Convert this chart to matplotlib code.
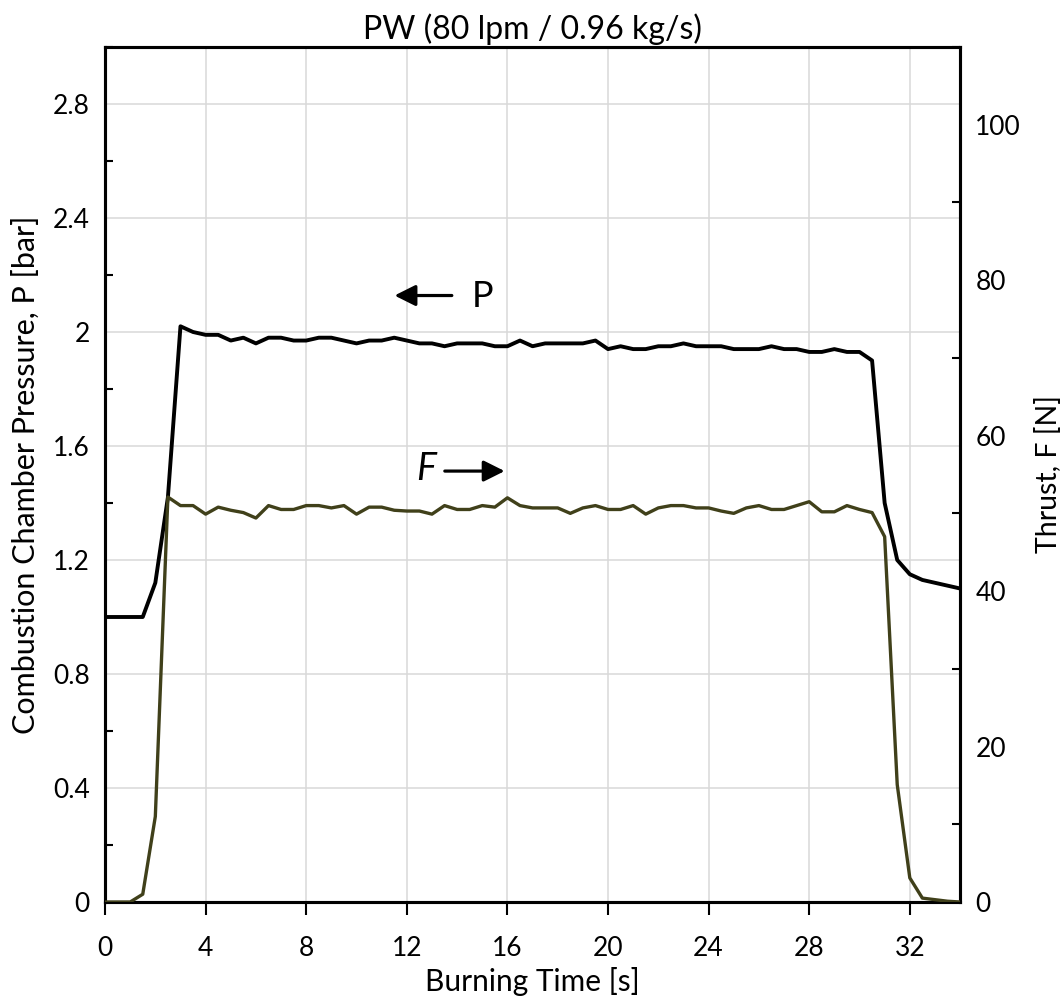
import numpy as np
import matplotlib
matplotlib.use("Agg")
from matplotlib import pyplot as plt
from matplotlib.ticker import MultipleLocator

plt.rcParams['font.family'] = ['Lato', 'DejaVu Sans']

# burning time, sampled every 0.5 s
time_s = np.arange(0, 34.5, 0.5)

# combustion chamber pressure [bar]
pressure = [1.00, 1.00, 1.00, 1.00, 1.12, 1.42, 2.02, 2.00, 1.99, 1.99,
            1.97, 1.98, 1.96, 1.98, 1.98, 1.97, 1.97, 1.98, 1.98, 1.97,
            1.96, 1.97, 1.97, 1.98, 1.97, 1.96, 1.96, 1.95, 1.96, 1.96,
            1.96, 1.95, 1.95, 1.97, 1.95, 1.96, 1.96, 1.96, 1.96, 1.97,
            1.94, 1.95, 1.94, 1.94, 1.95, 1.95, 1.96, 1.95, 1.95, 1.95,
            1.94, 1.94, 1.94, 1.95, 1.94, 1.94, 1.93, 1.93, 1.94, 1.93,
            1.93, 1.90, 1.40, 1.20, 1.15, 1.13, 1.12, 1.11, 1.10]

# thrust [N]
thrust = [0.0, 0.0, 0.0, 1.0, 11.0, 52.1, 51.0, 51.0, 49.9, 50.8,
          50.4, 50.1, 49.4, 51.0, 50.5, 50.5, 51.0, 51.0, 50.7, 51.0,
          49.9, 50.8, 50.8, 50.4, 50.3, 50.3, 49.9, 51.0, 50.5, 50.5,
          51.0, 50.8, 52.0, 51.0, 50.7, 50.7, 50.7, 50.0, 50.7, 51.0,
          50.5, 50.5, 51.0, 49.9, 50.7, 51.0, 51.0, 50.7, 50.7, 50.3,
          50.0, 50.7, 51.0, 50.5, 50.5, 51.0, 51.5, 50.2, 50.2, 51.0,
          50.5, 50.1, 47.0, 15.1, 3.1, 0.5, 0.3, 0.1, 0.0]

fig = plt.figure(figsize=(10.63, 10.02), dpi=100)
ax = fig.add_axes([0.0988, 0.0998, 0.8044, 0.8533])
ax2 = ax.twinx()

ax.plot(time_s, pressure, color='black', lw=2.8, zorder=3)
ax2.plot(time_s, thrust, color='#40401a', lw=2.4, zorder=3)

ax.set_xlim(0, 34)
ax.set_ylim(0, 3.0)
ax2.set_ylim(0, 110)

ax.xaxis.set_major_locator(MultipleLocator(4))
ax.yaxis.set_major_locator(MultipleLocator(0.4))
ax.yaxis.set_minor_locator(MultipleLocator(0.2))
ax2.yaxis.set_major_locator(MultipleLocator(20))
ax2.yaxis.set_minor_locator(MultipleLocator(10))
ax.yaxis.set_major_formatter(lambda v, p: '0' if v == 0 else ('%g' % round(v, 1)))

ax.grid(True, color='#d9d9d9', lw=1.1, zorder=0)
ax.set_axisbelow(True)

for a in (ax, ax2):
    for s in a.spines.values():
        s.set_linewidth(2.2)
        s.set_color('black')

ax.tick_params(axis='x', which='major', direction='out', length=9.5, width=1.5,
               pad=15, labelsize=19)
ax.tick_params(axis='y', which='major', length=0, pad=11, labelsize=19)
ax.tick_params(axis='y', which='minor', direction='in', length=6, width=1.5)
ax2.tick_params(axis='y', which='major', length=0, pad=11, labelsize=19)
ax2.tick_params(axis='y', which='minor', direction='in', length=6, width=1.5)

ax.set_xlabel('Burning Time [s]', fontsize=21.5, labelpad=4)
ax.set_ylabel('Combustion Chamber Pressure, P [bar]', fontsize=22, labelpad=9)
ax2.set_ylabel('Thrust, F [N]', fontsize=20.5, labelpad=10)
ax.set_title('PW (80 lpm / 0.96 kg/s)', fontsize=23, pad=6)

arrow = dict(arrowstyle='-|>', color='black', lw=2.3, mutation_scale=32)
ax.annotate('', xy=(11.4, 2.128), xytext=(13.9, 2.128), arrowprops=arrow)
ax.text(15.0, 2.125, 'P', fontsize=26, ha='center', va='center')
ax.annotate('', xy=(16.0, 1.512), xytext=(13.4, 1.512), arrowprops=arrow)
ax.text(12.75, 1.52, 'F', fontsize=27, style='italic', ha='center', va='center')

fig.savefig('out.png', dpi=100)
